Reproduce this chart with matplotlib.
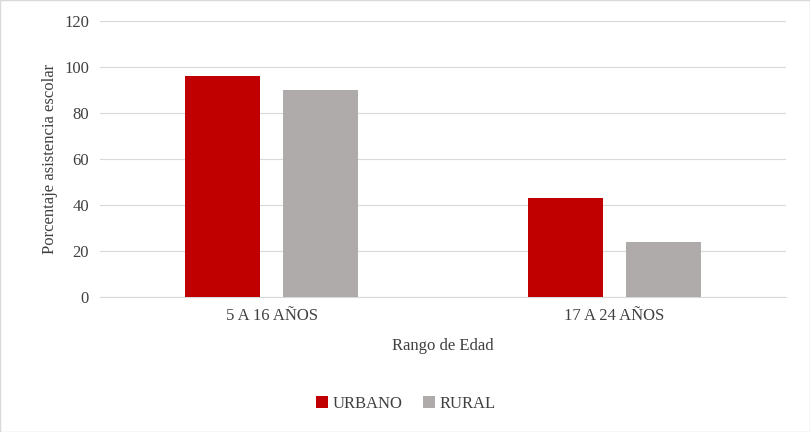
import numpy as np
import matplotlib.pyplot as plt
from matplotlib.patches import Rectangle

plt.rcParams['font.family'] = ['Liberation Serif', 'DejaVu Serif']

categories = ['5 A 16 AÑOS', '17 A 24 AÑOS']
urbano = [96, 43]
rural = [90, 24]

fig = plt.figure(figsize=(8.1, 4.32), dpi=100)
ax = fig.add_axes([100 / 810, 1 - 297 / 432, 686 / 810, 276 / 432])

x = np.arange(len(categories))
w = 0.22
ax.bar(x - 0.143, urbano, w, color='#C00000', label='URBANO', zorder=3)
ax.bar(x + 0.143, rural, w, color='#AFABAB', label='RURAL', zorder=3)

ax.set_xlim(-0.5, 1.5)
ax.set_ylim(0, 120)
ax.set_yticks(range(0, 121, 20))
ax.set_xticks(x)
ax.set_xticklabels(categories)
ax.grid(axis='y', color='#D9D9D9', linewidth=0.8, zorder=0)
for s in ['top', 'right', 'left']:
    ax.spines[s].set_visible(False)
ax.spines['bottom'].set_color('#D9D9D9')
ax.tick_params(length=0, labelsize=12, colors='#404040', pad=8)
ax.set_ylabel('Porcentaje asistencia escolar', fontsize=12, color='#404040')
ax.set_xlabel('Rango de Edad', fontsize=12, color='#404040', labelpad=10)

fig.legend(loc='center', bbox_to_anchor=(406 / 810, 1 - 404 / 432), ncol=2,
           frameon=False, fontsize=12, handlelength=0.7, handleheight=0.7,
           columnspacing=1.2, handletextpad=0.3, labelcolor='#404040')

fig.patches.append(Rectangle((0, 0), 1, 1, transform=fig.transFigure,
                             fill=False, edgecolor='#D9D9D9', linewidth=1))
fig.savefig('out.png', dpi=100)
